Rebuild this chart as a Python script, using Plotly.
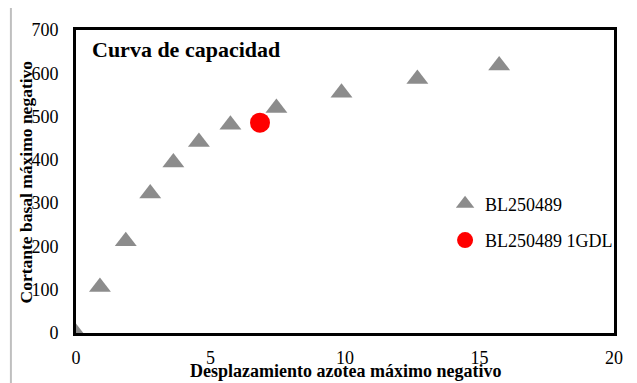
import plotly.graph_objects as go

#capacity curve of the building (pushover), negative direction
desplazamiento = [0, 0.89, 1.85, 2.76, 3.62, 4.57, 5.74, 7.45, 9.87, 12.69, 15.73]
cortante = [0, 106, 212, 322, 394, 441, 481, 520, 555, 587, 618]

#equivalent single degree of freedom point
desp_1gdl = [6.84]
cort_1gdl = [486]

x_ticks = [0, 5, 10, 15, 20]
y_ticks = [0, 100, 200, 300, 400, 500, 600, 700]

FONT = "Liberation Serif, Times New Roman, serif"

fig = go.Figure()

fig.add_trace(go.Scatter(x=desplazamiento, y=cortante, mode="markers", name="BL250489",
                         legendgroup="a",
                         marker=dict(symbol="triangle-up", size=19, color="#8c8c8c")))
fig.add_trace(go.Scatter(x=desp_1gdl, y=cort_1gdl, mode="markers", name="BL250489 1GDL",
                         legendgroup="b",
                         marker=dict(symbol="circle", size=20, color="#ff0000")))

#axes: black frame around the plot area, no grid
axis_style = dict(showgrid=False, zeroline=False, showline=True, mirror=True,
                  linecolor="black", linewidth=3, ticks="",
                  tickfont=dict(family=FONT, size=18, color="black"))
fig.update_xaxes(range=[0, 20], tickvals=x_ticks, ticklabelstandoff=6, **axis_style)
fig.update_yaxes(range=[0, 700], tickvals=y_ticks, ticklabelstandoff=11, **axis_style)

#the page body adds 8px on the left and top, so margins are taken 8px smaller there
fig.update_layout(
    width=637, height=383,
    margin=dict(l=68, r=31, t=22, b=58),
    paper_bgcolor="white", plot_bgcolor="white",
    font=dict(family=FONT, color="black"),
    showlegend=True,
    legend=dict(x=0.686, y=0.487, xanchor="left", yanchor="top",
                bgcolor="rgba(0,0,0,0)", font=dict(size=18),
                traceorder="grouped", tracegroupgap=10),
)

#chart title inside the plot area
fig.add_annotation(text="<b>Curva de capacidad</b>", xref="paper", yref="paper",
                   x=0.026, y=0.934, xanchor="left", yanchor="middle", showarrow=False,
                   font=dict(family=FONT, size=22, color="black"))
#axis titles
fig.add_annotation(text="<b>Desplazamiento azotea máximo negativo</b>", xref="paper", yref="paper",
                   x=0.5, y=-0.125, xanchor="center", yanchor="middle", showarrow=False,
                   font=dict(family=FONT, size=18, color="black"))
fig.add_annotation(text="<b>Cortante basal máximo negativo</b>", xref="paper", yref="paper",
                   x=-0.093, y=0.5, xanchor="center", yanchor="middle", showarrow=False,
                   textangle=-90, font=dict(family=FONT, size=17.5, color="black"))

#gray border of the chart area
fig.add_shape(type="rect", xref="paper", yref="paper",
              x0=-0.121, y0=-0.3, x1=1.1, y1=1.076,
              line=dict(color="#bfbfbf", width=2), layer="below")

fig.write_html("out.html")
